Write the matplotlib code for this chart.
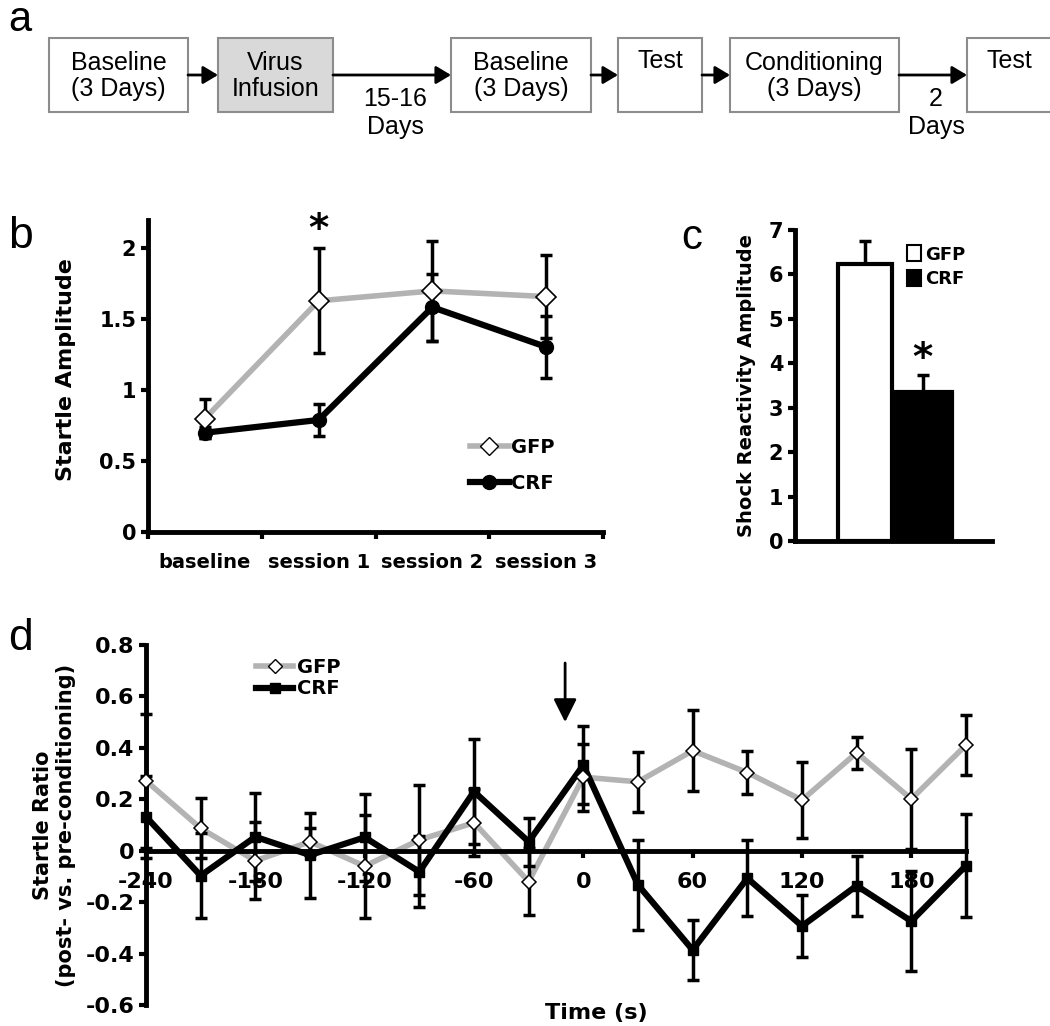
import matplotlib
matplotlib.use("Agg")
import matplotlib.pyplot as plt
from matplotlib.lines import Line2D
from matplotlib.patches import Rectangle, Patch

# ---- panel a: timeline ----
steps = ["Baseline\n(3 Days)", "Virus\nInfusion", "Baseline\n(3 Days)", "Test",
         "Conditioning\n(3 Days)", "Test"]
step_gaps = ["", "15-16\nDays", "", "", "2\nDays"]

# ---- panel b: startle amplitude across sessions ----
sessions = ["baseline", "session 1", "session 2", "session 3"]
b_gfp = [0.80, 1.63, 1.70, 1.66]
b_gfp_err = [0.14, 0.37, 0.35, 0.29]
b_crf = [0.70, 0.79, 1.585, 1.305]
b_crf_err = [0.04, 0.115, 0.235, 0.22]

# ---- panel c: shock reactivity ----
c_groups = ["GFP", "CRF"]
c_vals = [6.23, 3.36]
c_err = [0.52, 0.38]

# ---- panel d: startle ratio over time ----
times = [-240, -210, -180, -150, -120, -90, -60, -30, 0, 30, 60, 90, 120, 150, 180, 210]
d_gfp = [0.272, 0.087, -0.039, 0.035, -0.06, 0.042, 0.109, -0.12,
         0.286, 0.268, 0.389, 0.304, 0.197, 0.381, 0.201, 0.411]
d_gfp_err = [0.26, 0.117, 0.15, 0.052, 0.20, 0.215, 0.13, 0.13,
             0.13, 0.117, 0.158, 0.085, 0.147, 0.062, 0.193, 0.117]
d_crf = [0.132, -0.097, 0.054, -0.017, 0.052, -0.082, 0.23, 0.035,
         0.333, -0.133, -0.386, -0.107, -0.293, -0.136, -0.274, -0.058]
d_crf_err = [0.16, 0.165, 0.17, 0.165, 0.17, 0.138, 0.205, 0.093,
             0.153, 0.175, 0.115, 0.147, 0.122, 0.117, 0.195, 0.2]

GRAY = "#b3b3b3"
bold = dict(fontweight="bold", family="DejaVu Sans")
plt.rcParams["font.family"] = ["DejaVu Sans"]
plt.rcParams["axes.unicode_minus"] = False

fig = plt.figure(figsize=(10.5, 10.26), dpi=100)

# ================= panel a =================
axa = fig.add_axes([0, 1 - 140 / 1026, 1, 140 / 1026])
axa.set_xlim(0, 1050)
axa.set_ylim(140, 0)
axa.axis("off")
box_x = [(49, 188), (218, 333), (451, 591), (618, 702), (730, 899), (967, 1052)]
box_fill = ["white", "#d9d9d9", "white", "white", "white", "white"]
narrow = ["Liberation Sans Narrow", "Liberation Sans"]
for i, label in enumerate(steps):
    x0, x1 = box_x[i]
    axa.add_patch(Rectangle((x0, 38), x1 - x0, 74, facecolor=box_fill[i],
                            edgecolor="#8c8c8c", lw=1.5, clip_on=False))
    ty = 61 if label == "Test" else 76
    axa.text((x0 + x1) / 2, ty, label, ha="center", va="center", fontsize=18,
             family=narrow, linespacing=1.15)
for i, gap in enumerate(step_gaps):
    xs = box_x[i][1]
    xe = box_x[i + 1][0]
    axa.annotate("", xy=(xe, 75), xytext=(xs, 75),
                 arrowprops=dict(arrowstyle="-|>,head_length=0.5,head_width=0.3",
                                 lw=2, color="black", mutation_scale=18,
                                 shrinkA=0, shrinkB=0))
    if gap:
        axa.text((xs + xe) / 2 + 3, 113, gap, ha="center", va="center", fontsize=18,
                 family=narrow, linespacing=1.2)
fig.text(20 / 1050, 1 - 20 / 1026, "a", fontsize=30, ha="center", va="center",
         family="Liberation Sans")

# ================= panel b =================
axb = fig.add_axes([148 / 1050, 1 - 532 / 1026, 455 / 1050, 312 / 1026])
xb = [i + 0.5 for i in range(len(sessions))]
axb.errorbar(xb, b_gfp, yerr=b_gfp_err, fmt="none", ecolor="black", elinewidth=2.5,
             capsize=4, capthick=2.5, zorder=4)
axb.errorbar(xb, b_crf, yerr=b_crf_err, fmt="none", ecolor="black", elinewidth=2.5,
             capsize=4, capthick=2.5, zorder=4)
axb.plot(xb, b_gfp, color=GRAY, lw=4, zorder=2)
axb.plot(xb, b_crf, color="black", lw=4.5, zorder=3)
axb.plot(xb, b_gfp, ls="none", marker="D", ms=10, mfc="white", mec="black", mew=1.2, zorder=6)
axb.plot(xb, b_crf, ls="none", marker="o", ms=10, color="black", zorder=5)
axb.text(xb[1], 2.13, "*", ha="center", va="center", fontsize=28, **bold)
axb.set_xlim(0, 4)
axb.set_ylim(0, 2.2)
axb.set_yticks([0, 0.5, 1, 1.5, 2])
axb.set_yticklabels(["0", "0.5", "1", "1.5", "2"])
axb.set_xticks(range(5))
axb.set_xticklabels([])
for xi, lab in zip(xb, sessions):
    axb.text(xi, -0.15, lab, ha="center", va="top", fontsize=14, **bold)
for s in ["top", "right"]:
    axb.spines[s].set_visible(False)
for s in ["left", "bottom"]:
    axb.spines[s].set_linewidth(3.5)
axb.tick_params(width=3, length=5, labelsize=15)
for t in axb.get_yticklabels():
    t.set_fontweight("bold")
axb.set_ylabel("Startle Amplitude", fontsize=16, **bold)
axb.yaxis.set_label_coords(-0.158, 0.52)
hb = [Line2D([], [], color=GRAY, lw=4, marker="D", ms=9, mfc="white", mec="black"),
      Line2D([], [], color="black", lw=4.5, marker="o", ms=10)]
axb.legend(hb, ["GFP", "CRF"], loc=(0.69, 0.1), frameon=False, handlelength=2.0,
           handletextpad=0.1, labelspacing=0.9, prop=dict(weight="bold", size=14))
fig.text(20 / 1050, 1 - 236 / 1026, "b", fontsize=32, ha="center", va="center",
         family="Liberation Sans")

# ================= panel c =================
axc = fig.add_axes([795 / 1050, 1 - 541 / 1026, 197 / 1050, 311 / 1026])
xc = [0.355, 0.648]
axc.bar(xc, c_vals, width=[0.27, 0.30], color=["white", "black"], edgecolor="black",
        lw=3, zorder=2)
axc.errorbar(xc, c_vals, yerr=[[0, 0], c_err], fmt="none", ecolor="black",
             elinewidth=2.5, capsize=4, capthick=2.5, zorder=1)
axc.text(xc[1], 4.1, "*", ha="center", va="center", fontsize=28, **bold)
axc.set_xlim(0, 1)
axc.set_ylim(0, 7)
axc.set_yticks(range(8))
axc.set_xticks([])
for s in ["top", "right"]:
    axc.spines[s].set_visible(False)
for s in ["left", "bottom"]:
    axc.spines[s].set_linewidth(3.5)
axc.tick_params(width=3, length=5, labelsize=15)
for t in axc.get_yticklabels():
    t.set_fontweight("bold")
axc.set_ylabel("Shock Reactivity Amplitude", fontsize=14, **bold)
axc.yaxis.set_label_coords(-0.2, 0.5)
hc = [Patch(facecolor="white", edgecolor="black", lw=1.5),
      Patch(facecolor="black", edgecolor="black", lw=1.5)]
axc.legend(hc, c_groups, loc=(0.53, 0.79), frameon=False, handlelength=0.8,
           handleheight=1.0, handletextpad=0.2, labelspacing=0.35,
           prop=dict(weight="bold", size=13))
fig.text(692 / 1050, 1 - 238 / 1026, "c", fontsize=30, ha="center", va="center",
         family="Liberation Sans")

# ================= panel d =================
axd = fig.add_axes([146 / 1050, 1 - 1005 / 1026, 820 / 1050, 360 / 1026])
axd.plot(times, d_gfp, color=GRAY, lw=4, zorder=2, clip_on=False)
axd.plot(times, d_crf, color="black", lw=4.5, zorder=3, clip_on=False)
for vals, errs in [(d_gfp, d_gfp_err), (d_crf, d_crf_err)]:
    eb = axd.errorbar(times, vals, yerr=errs, fmt="none", ecolor="black",
                      elinewidth=2.5, capsize=4, capthick=2.5, zorder=4)
    for art in eb.lines[1] + eb.lines[2]:
        art.set_clip_on(False)
axd.plot(times, d_crf, ls="none", marker="s", ms=6.5, color="black", zorder=5, clip_on=False)
axd.plot(times, d_gfp, ls="none", marker="D", ms=7.5, mfc="white", mec="black",
         mew=1.1, zorder=6, clip_on=False)
axd.annotate("", xy=(-10, 0.50), xytext=(-10, 0.73),
             arrowprops=dict(arrowstyle="-|>,head_length=0.7,head_width=0.35",
                             lw=2, color="black", mutation_scale=20,
                             shrinkA=0, shrinkB=0))
axd.set_xlim(-240, 210)
axd.set_ylim(-0.6, 0.8)
axd.set_yticks([-0.6, -0.4, -0.2, 0, 0.2, 0.4, 0.6, 0.8])
axd.set_yticklabels(["-0.6", "-0.4", "-0.2", "0", "0.2", "0.4", "0.6", "0.8"])
axd.set_xticks(list(range(-240, 181, 60)))
axd.spines["bottom"].set_position(("data", 0))
for s in ["top", "right"]:
    axd.spines[s].set_visible(False)
for s in ["left", "bottom"]:
    axd.spines[s].set_linewidth(3.5)
axd.tick_params(width=3, length=5, labelsize=16)
axd.tick_params(axis="x", pad=10)
for t in axd.get_yticklabels() + axd.get_xticklabels():
    t.set_fontweight("bold")
axd.set_ylabel("Startle Ratio\n(post- vs. pre-conditioning)", fontsize=15, **bold)
axd.yaxis.set_label_coords(-0.085, 0.5)
axd.text(0.549, -0.022, "Time (s)", transform=axd.transAxes, ha="center", va="center",
         fontsize=16, **bold)
hd = [Line2D([], [], color=GRAY, lw=4, marker="D", ms=7.5, mfc="white", mec="black"),
      Line2D([], [], color="black", lw=4.5, marker="s", ms=6.5)]
axd.legend(hd, ["GFP", "CRF"], loc=(0.125, 0.83), frameon=False, handlelength=1.9,
           handletextpad=0.2, labelspacing=0.15, prop=dict(weight="bold", size=14))
fig.text(20 / 1050, 1 - 638 / 1026, "d", fontsize=32, ha="center", va="center",
         family="Liberation Sans")

fig.savefig("out.png", dpi=100)
